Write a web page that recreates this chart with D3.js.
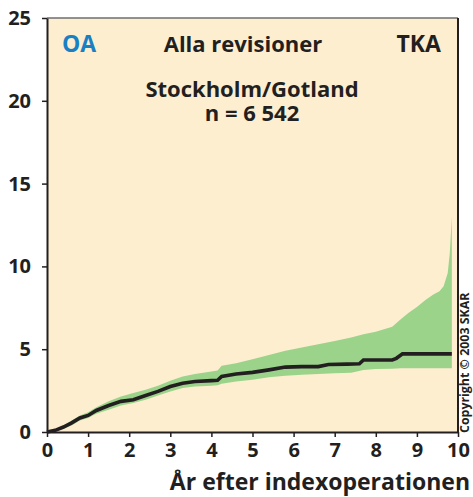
<!DOCTYPE html>
<html>
<head>
<meta charset="utf-8">
<script src="https://cdn.jsdelivr.net/npm/d3@7"></script>
<style>
  body { margin: 0; background: #fff; }
  svg text { font-family: "Open Sans", "DejaVu Sans", sans-serif; font-weight: 700; fill: #231f20; }
</style>
</head>
<body>
<div id="container"></div>
<script>
// median curve (cumulative revision %, years after index operation)
var medYears = [0, 0.2, 0.4, 0.6, 0.8, 1.0, 1.2, 1.5, 1.8, 2.1, 2.4, 2.7, 3.0, 3.3, 3.6, 4.0, 4.15, 4.25, 4.6, 5.0, 5.4, 5.8, 6.2, 6.6, 6.85, 7.3, 7.6, 7.7, 8.4, 8.5, 8.65, 9.85];
var medValues = [0, 0.1, 0.3, 0.55, 0.85, 1.0, 1.3, 1.6, 1.85, 1.95, 2.2, 2.45, 2.75, 2.95, 3.05, 3.1, 3.12, 3.35, 3.5, 3.6, 3.75, 3.92, 3.95, 3.95, 4.08, 4.1, 4.12, 4.35, 4.35, 4.45, 4.72, 4.72];

// confidence band
var bandYears = [0, 0.2, 0.4, 0.6, 0.8, 1.0, 1.2, 1.5, 1.8, 2.1, 2.4, 2.7, 3.0, 3.3, 3.6, 4.0, 4.15, 4.25, 4.6, 5.0, 5.4, 5.8, 6.2, 6.6, 7.0, 7.4, 7.7, 8.0, 8.4, 8.6, 8.8, 9.0, 9.2, 9.4, 9.55, 9.65, 9.75, 9.8, 9.85];
var bandLower = [0, 0.05, 0.2, 0.4, 0.7, 0.85, 1.1, 1.35, 1.6, 1.75, 1.95, 2.2, 2.45, 2.65, 2.75, 2.8, 2.82, 2.92, 3.05, 3.15, 3.3, 3.4, 3.45, 3.5, 3.55, 3.58, 3.75, 3.8, 3.82, 3.85, 3.85, 3.85, 3.85, 3.85, 3.85, 3.85, 3.85, 3.85, 3.85];
var bandUpper = [0, 0.15, 0.4, 0.7, 1.0, 1.2, 1.5, 1.85, 2.15, 2.35, 2.55, 2.8, 3.1, 3.35, 3.5, 3.65, 3.72, 4.0, 4.15, 4.4, 4.65, 4.9, 5.1, 5.3, 5.5, 5.7, 5.9, 6.05, 6.35, 6.8, 7.2, 7.55, 7.95, 8.3, 8.5, 8.8, 9.6, 10.8, 13.0];

var xTicks = [0, 1, 2, 3, 4, 5, 6, 7, 8, 9, 10];
var yTicks = [0, 5, 10, 15, 20, 25];

var width = 473,
    height = 497;
var margin = {top: 18, right: 15, bottom: 65, left: 47};

var svg = d3.select('#container').append('svg')
      .attr("width", width)
      .attr("height", height);

var x = d3.scaleLinear().domain([0, 10]).range([margin.left, width - margin.right]);
var y = d3.scaleLinear().domain([0, 25]).range([height - margin.bottom, margin.top]);

// background panel
svg.append('rect')
   .attr('x', x(0))
   .attr('y', y(25))
   .attr('width', x(10) - x(0))
   .attr('height', y(0) - y(25))
   .attr('fill', '#fdeed0');

var band = bandYears.map(function(t, i) { return {t: t, lo: bandLower[i], hi: bandUpper[i]}; });
var area = d3.area()
   .x(function(d) { return x(d.t); })
   .y0(function(d) { return y(d.lo); })
   .y1(function(d) { return y(d.hi); });

svg.append('path')
   .datum(band)
   .attr('d', area)
   .attr('fill', '#9bd38b');

var med = medYears.map(function(t, i) { return {t: t, v: medValues[i]}; });
var line = d3.line()
   .x(function(d) { return x(d.t); })
   .y(function(d) { return y(d.v); });

svg.append('path')
   .datum(med)
   .attr('d', line)
   .attr('fill', 'none')
   .attr('stroke', '#231f20')
   .attr('stroke-width', 3.6);

// frame: top grey, right dark
svg.append('line')
   .attr('x1', x(0)).attr('x2', x(10))
   .attr('y1', y(25)).attr('y2', y(25))
   .attr('stroke', '#6d6e71').attr('stroke-width', 1.5);
svg.append('line')
   .attr('x1', x(10)).attr('x2', x(10))
   .attr('y1', y(25)).attr('y2', y(0))
   .attr('stroke', '#231f20').attr('stroke-width', 2);

// axes
var xAxis = svg.append('g')
   .attr('transform', 'translate(0,' + y(0) + ')')
   .call(d3.axisBottom(x).tickValues(xTicks).tickSize(5).tickSizeOuter(0).tickPadding(6));
var yAxis = svg.append('g')
   .attr('transform', 'translate(' + x(0) + ',0)')
   .call(d3.axisLeft(y).tickValues(yTicks).tickSize(5).tickSizeOuter(0).tickPadding(11));

[xAxis, yAxis].forEach(function(g) {
  g.select('.domain').attr('stroke', '#231f20').attr('stroke-width', 2);
  g.selectAll('.tick line').attr('stroke', '#231f20').attr('stroke-width', 1.5);
  g.selectAll('.tick text')
   .attr('fill', '#231f20')
   .style('font-size', '20px')
   .style('font-family', '"Open Sans", "DejaVu Sans", sans-serif')
   .style('font-weight', 700);
});

// titles
svg.append('text')
   .attr('x', 62).attr('y', 52)
   .style('font-size', '23px')
   .style('fill', '#1a80c4')
   .text('OA');
svg.append('text')
   .attr('x', 243).attr('y', 52)
   .attr('text-anchor', 'middle')
   .style('font-size', '22px')
   .text('Alla revisioner');
svg.append('text')
   .attr('x', 441).attr('y', 52)
   .attr('text-anchor', 'end')
   .style('font-size', '23px')
   .text('TKA');
svg.append('text')
   .attr('x', 252).attr('y', 97)
   .attr('text-anchor', 'middle')
   .style('font-size', '22px')
   .text('Stockholm/Gotland');
svg.append('text')
   .attr('x', 252).attr('y', 121)
   .attr('text-anchor', 'middle')
   .style('font-size', '22px')
   .text('n = 6 542');

svg.append('text')
   .attr('x', 470).attr('y', 490)
   .attr('text-anchor', 'end')
   .style('font-size', '23px')
   .text('År efter indexoperationen');

svg.append('text')
   .attr('transform', 'translate(469,433) rotate(-90)')
   .style('font-size', '12.4px')
   .text('Copyright © 2003 SKAR');
</script>
</body>
</html>
